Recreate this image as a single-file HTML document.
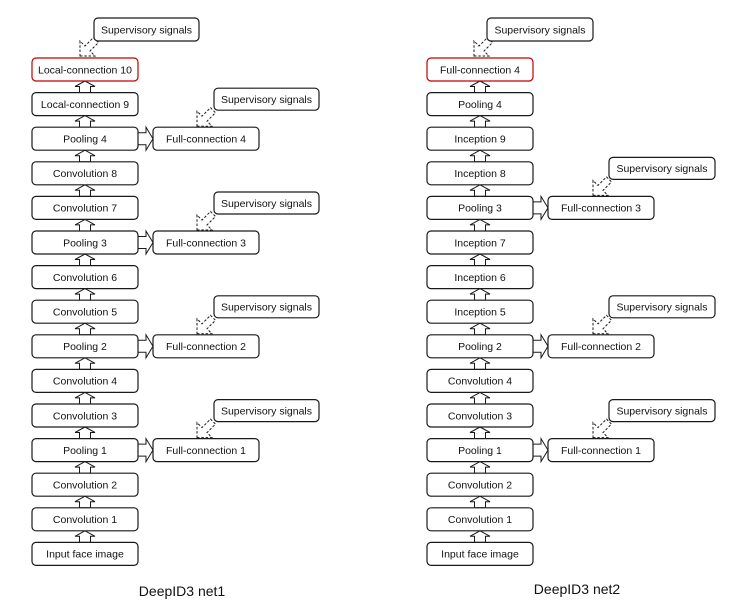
<!DOCTYPE html>
<html>
<head>
<meta charset="utf-8">
<style>
html,body{margin:0;padding:0;background:#fff;}
svg{display:block;}
.b{fill:#fff;stroke:#1a1a1a;stroke-width:1.2;}
.r{fill:#fff;stroke:#c00000;stroke-width:1.2;}
.t{font-family:"Liberation Sans",sans-serif;font-size:10.5px;fill:#111;text-anchor:middle;}
.h{font-family:"Liberation Sans",sans-serif;font-size:14px;fill:#111;text-anchor:middle;}
.a{fill:#fff;stroke:#1a1a1a;stroke-width:1;}
.d{fill:#fff;stroke:#1a1a1a;stroke-width:1;stroke-dasharray:2.5,1.8;}
</style>
</head>
<body>
<svg width="746" height="605" viewBox="0 0 746 605" xmlns="http://www.w3.org/2000/svg">
<defs>
<path id="up" d="M0,0 L10,5.5 L5.5,5.5 L5.5,11.6 L-5.5,11.6 L-5.5,5.5 L-10,5.5 Z"/>
<path id="rt" d="M0,-6 L8,-6 L8,-11.5 L15,0 L8,11.5 L8,6 L0,6 Z"/>
<path id="dg" d="M0,0 L15,0 L10,-5 L18.5,-13.5 L13.5,-18.5 L5,-10 L0,-15 Z"/>
</defs>

<!-- ================= LEFT: DeepID3 net1 ================= -->
<g class="a">
<use href="#up" x="85" y="81"/>
<use href="#up" x="85" y="115.6"/>
<use href="#up" x="85" y="150.2"/>
<use href="#up" x="85" y="184.8"/>
<use href="#up" x="85" y="219.4"/>
<use href="#up" x="85" y="254"/>
<use href="#up" x="85" y="288.6"/>
<use href="#up" x="85" y="323.2"/>
<use href="#up" x="85" y="357.8"/>
<use href="#up" x="85" y="392.4"/>
<use href="#up" x="85" y="427"/>
<use href="#up" x="85" y="461.6"/>
<use href="#up" x="85" y="496.2"/>
<use href="#up" x="85" y="530.8"/>
</g>
<g class="a">
<use href="#rt" x="138" y="138.7"/>
<use href="#rt" x="138" y="242.5"/>
<use href="#rt" x="138" y="346.3"/>
<use href="#rt" x="138" y="450.1"/>
</g>
<g class="d">
<use href="#dg" x="80" y="56"/>
<use href="#dg" x="197" y="126.2"/>
<use href="#dg" x="197" y="230"/>
<use href="#dg" x="197" y="333.8"/>
<use href="#dg" x="197" y="437.6"/>
</g>
<rect class="r" x="32" y="58" width="106" height="23" rx="4"/>
<rect class="b" x="32" y="92.6" width="106" height="23" rx="4"/>
<rect class="b" x="32" y="127.2" width="106" height="23" rx="4"/>
<rect class="b" x="32" y="161.8" width="106" height="23" rx="4"/>
<rect class="b" x="32" y="196.4" width="106" height="23" rx="4"/>
<rect class="b" x="32" y="231" width="106" height="23" rx="4"/>
<rect class="b" x="32" y="265.6" width="106" height="23" rx="4"/>
<rect class="b" x="32" y="300.2" width="106" height="23" rx="4"/>
<rect class="b" x="32" y="334.8" width="106" height="23" rx="4"/>
<rect class="b" x="32" y="369.4" width="106" height="23" rx="4"/>
<rect class="b" x="32" y="404" width="106" height="23" rx="4"/>
<rect class="b" x="32" y="438.6" width="106" height="23" rx="4"/>
<rect class="b" x="32" y="473.2" width="106" height="23" rx="4"/>
<rect class="b" x="32" y="507.8" width="106" height="23" rx="4"/>
<rect class="b" x="32" y="542.4" width="106" height="23" rx="4"/>
<text class="t" x="85" y="73.3">Local-connection 10</text>
<text class="t" x="85" y="107.9">Local-connection 9</text>
<text class="t" x="85" y="142.5">Pooling 4</text>
<text class="t" x="85" y="177.1">Convolution 8</text>
<text class="t" x="85" y="211.7">Convolution 7</text>
<text class="t" x="85" y="246.3">Pooling 3</text>
<text class="t" x="85" y="280.9">Convolution 6</text>
<text class="t" x="85" y="315.5">Convolution 5</text>
<text class="t" x="85" y="350.1">Pooling 2</text>
<text class="t" x="85" y="384.7">Convolution 4</text>
<text class="t" x="85" y="419.3">Convolution 3</text>
<text class="t" x="85" y="453.9">Pooling 1</text>
<text class="t" x="85" y="488.5">Convolution 2</text>
<text class="t" x="85" y="523.1">Convolution 1</text>
<text class="t" x="85" y="557.7">Input face image</text>
<rect class="b" x="153" y="127.2" width="106" height="23" rx="4"/>
<rect class="b" x="153" y="231" width="106" height="23" rx="4"/>
<rect class="b" x="153" y="334.8" width="106" height="23" rx="4"/>
<rect class="b" x="153" y="438.6" width="106" height="23" rx="4"/>
<text class="t" x="206" y="142.5">Full-connection 4</text>
<text class="t" x="206" y="246.3">Full-connection 3</text>
<text class="t" x="206" y="350.1">Full-connection 2</text>
<text class="t" x="206" y="453.9">Full-connection 1</text>
<rect class="b" x="94" y="18" width="105" height="23" rx="4"/>
<text class="t" x="146.5" y="33.3">Supervisory signals</text>
<rect class="b" x="214" y="88.2" width="105" height="22" rx="4"/>
<rect class="b" x="214" y="192" width="105" height="22" rx="4"/>
<rect class="b" x="214" y="295.8" width="105" height="22" rx="4"/>
<rect class="b" x="214" y="399.6" width="105" height="22" rx="4"/>
<text class="t" x="266.5" y="103">Supervisory signals</text>
<text class="t" x="266.5" y="206.8">Supervisory signals</text>
<text class="t" x="266.5" y="310.6">Supervisory signals</text>
<text class="t" x="266.5" y="414.4">Supervisory signals</text>
<text class="h" x="182" y="596">DeepID3 net1</text>

<!-- ================= RIGHT: DeepID3 net2 ================= -->
<g class="a">
<use href="#up" x="480" y="81"/>
<use href="#up" x="480" y="115.6"/>
<use href="#up" x="480" y="150.2"/>
<use href="#up" x="480" y="184.8"/>
<use href="#up" x="480" y="219.4"/>
<use href="#up" x="480" y="254"/>
<use href="#up" x="480" y="288.6"/>
<use href="#up" x="480" y="323.2"/>
<use href="#up" x="480" y="357.8"/>
<use href="#up" x="480" y="392.4"/>
<use href="#up" x="480" y="427"/>
<use href="#up" x="480" y="461.6"/>
<use href="#up" x="480" y="496.2"/>
<use href="#up" x="480" y="530.8"/>
</g>
<g class="a">
<use href="#rt" x="533" y="207.9"/>
<use href="#rt" x="533" y="346.3"/>
<use href="#rt" x="533" y="450.1"/>
</g>
<g class="d">
<use href="#dg" x="474" y="56"/>
<use href="#dg" x="593" y="195.4"/>
<use href="#dg" x="593" y="333.8"/>
<use href="#dg" x="593" y="437.6"/>
</g>
<rect class="r" x="427" y="58" width="106" height="23" rx="4"/>
<rect class="b" x="427" y="92.6" width="106" height="23" rx="4"/>
<rect class="b" x="427" y="127.2" width="106" height="23" rx="4"/>
<rect class="b" x="427" y="161.8" width="106" height="23" rx="4"/>
<rect class="b" x="427" y="196.4" width="106" height="23" rx="4"/>
<rect class="b" x="427" y="231" width="106" height="23" rx="4"/>
<rect class="b" x="427" y="265.6" width="106" height="23" rx="4"/>
<rect class="b" x="427" y="300.2" width="106" height="23" rx="4"/>
<rect class="b" x="427" y="334.8" width="106" height="23" rx="4"/>
<rect class="b" x="427" y="369.4" width="106" height="23" rx="4"/>
<rect class="b" x="427" y="404" width="106" height="23" rx="4"/>
<rect class="b" x="427" y="438.6" width="106" height="23" rx="4"/>
<rect class="b" x="427" y="473.2" width="106" height="23" rx="4"/>
<rect class="b" x="427" y="507.8" width="106" height="23" rx="4"/>
<rect class="b" x="427" y="542.4" width="106" height="23" rx="4"/>
<text class="t" x="480" y="73.3">Full-connection 4</text>
<text class="t" x="480" y="107.9">Pooling 4</text>
<text class="t" x="480" y="142.5">Inception 9</text>
<text class="t" x="480" y="177.1">Inception 8</text>
<text class="t" x="480" y="211.7">Pooling 3</text>
<text class="t" x="480" y="246.3">Inception 7</text>
<text class="t" x="480" y="280.9">Inception 6</text>
<text class="t" x="480" y="315.5">Inception 5</text>
<text class="t" x="480" y="350.1">Pooling 2</text>
<text class="t" x="480" y="384.7">Convolution 4</text>
<text class="t" x="480" y="419.3">Convolution 3</text>
<text class="t" x="480" y="453.9">Pooling 1</text>
<text class="t" x="480" y="488.5">Convolution 2</text>
<text class="t" x="480" y="523.1">Convolution 1</text>
<text class="t" x="480" y="557.7">Input face image</text>
<rect class="b" x="548" y="196.4" width="106" height="23" rx="4"/>
<rect class="b" x="548" y="334.8" width="106" height="23" rx="4"/>
<rect class="b" x="548" y="438.6" width="106" height="23" rx="4"/>
<text class="t" x="601" y="211.7">Full-connection 3</text>
<text class="t" x="601" y="350.1">Full-connection 2</text>
<text class="t" x="601" y="453.9">Full-connection 1</text>
<rect class="b" x="487" y="18" width="106" height="23" rx="4"/>
<text class="t" x="540" y="33.3">Supervisory signals</text>
<rect class="b" x="609" y="157.4" width="106" height="22" rx="4"/>
<rect class="b" x="609" y="295.8" width="106" height="22" rx="4"/>
<rect class="b" x="609" y="399.6" width="106" height="22" rx="4"/>
<text class="t" x="662" y="172.2">Supervisory signals</text>
<text class="t" x="662" y="310.6">Supervisory signals</text>
<text class="t" x="662" y="414.4">Supervisory signals</text>
<text class="h" x="577" y="594">DeepID3 net2</text>
</svg>
</body>
</html>
